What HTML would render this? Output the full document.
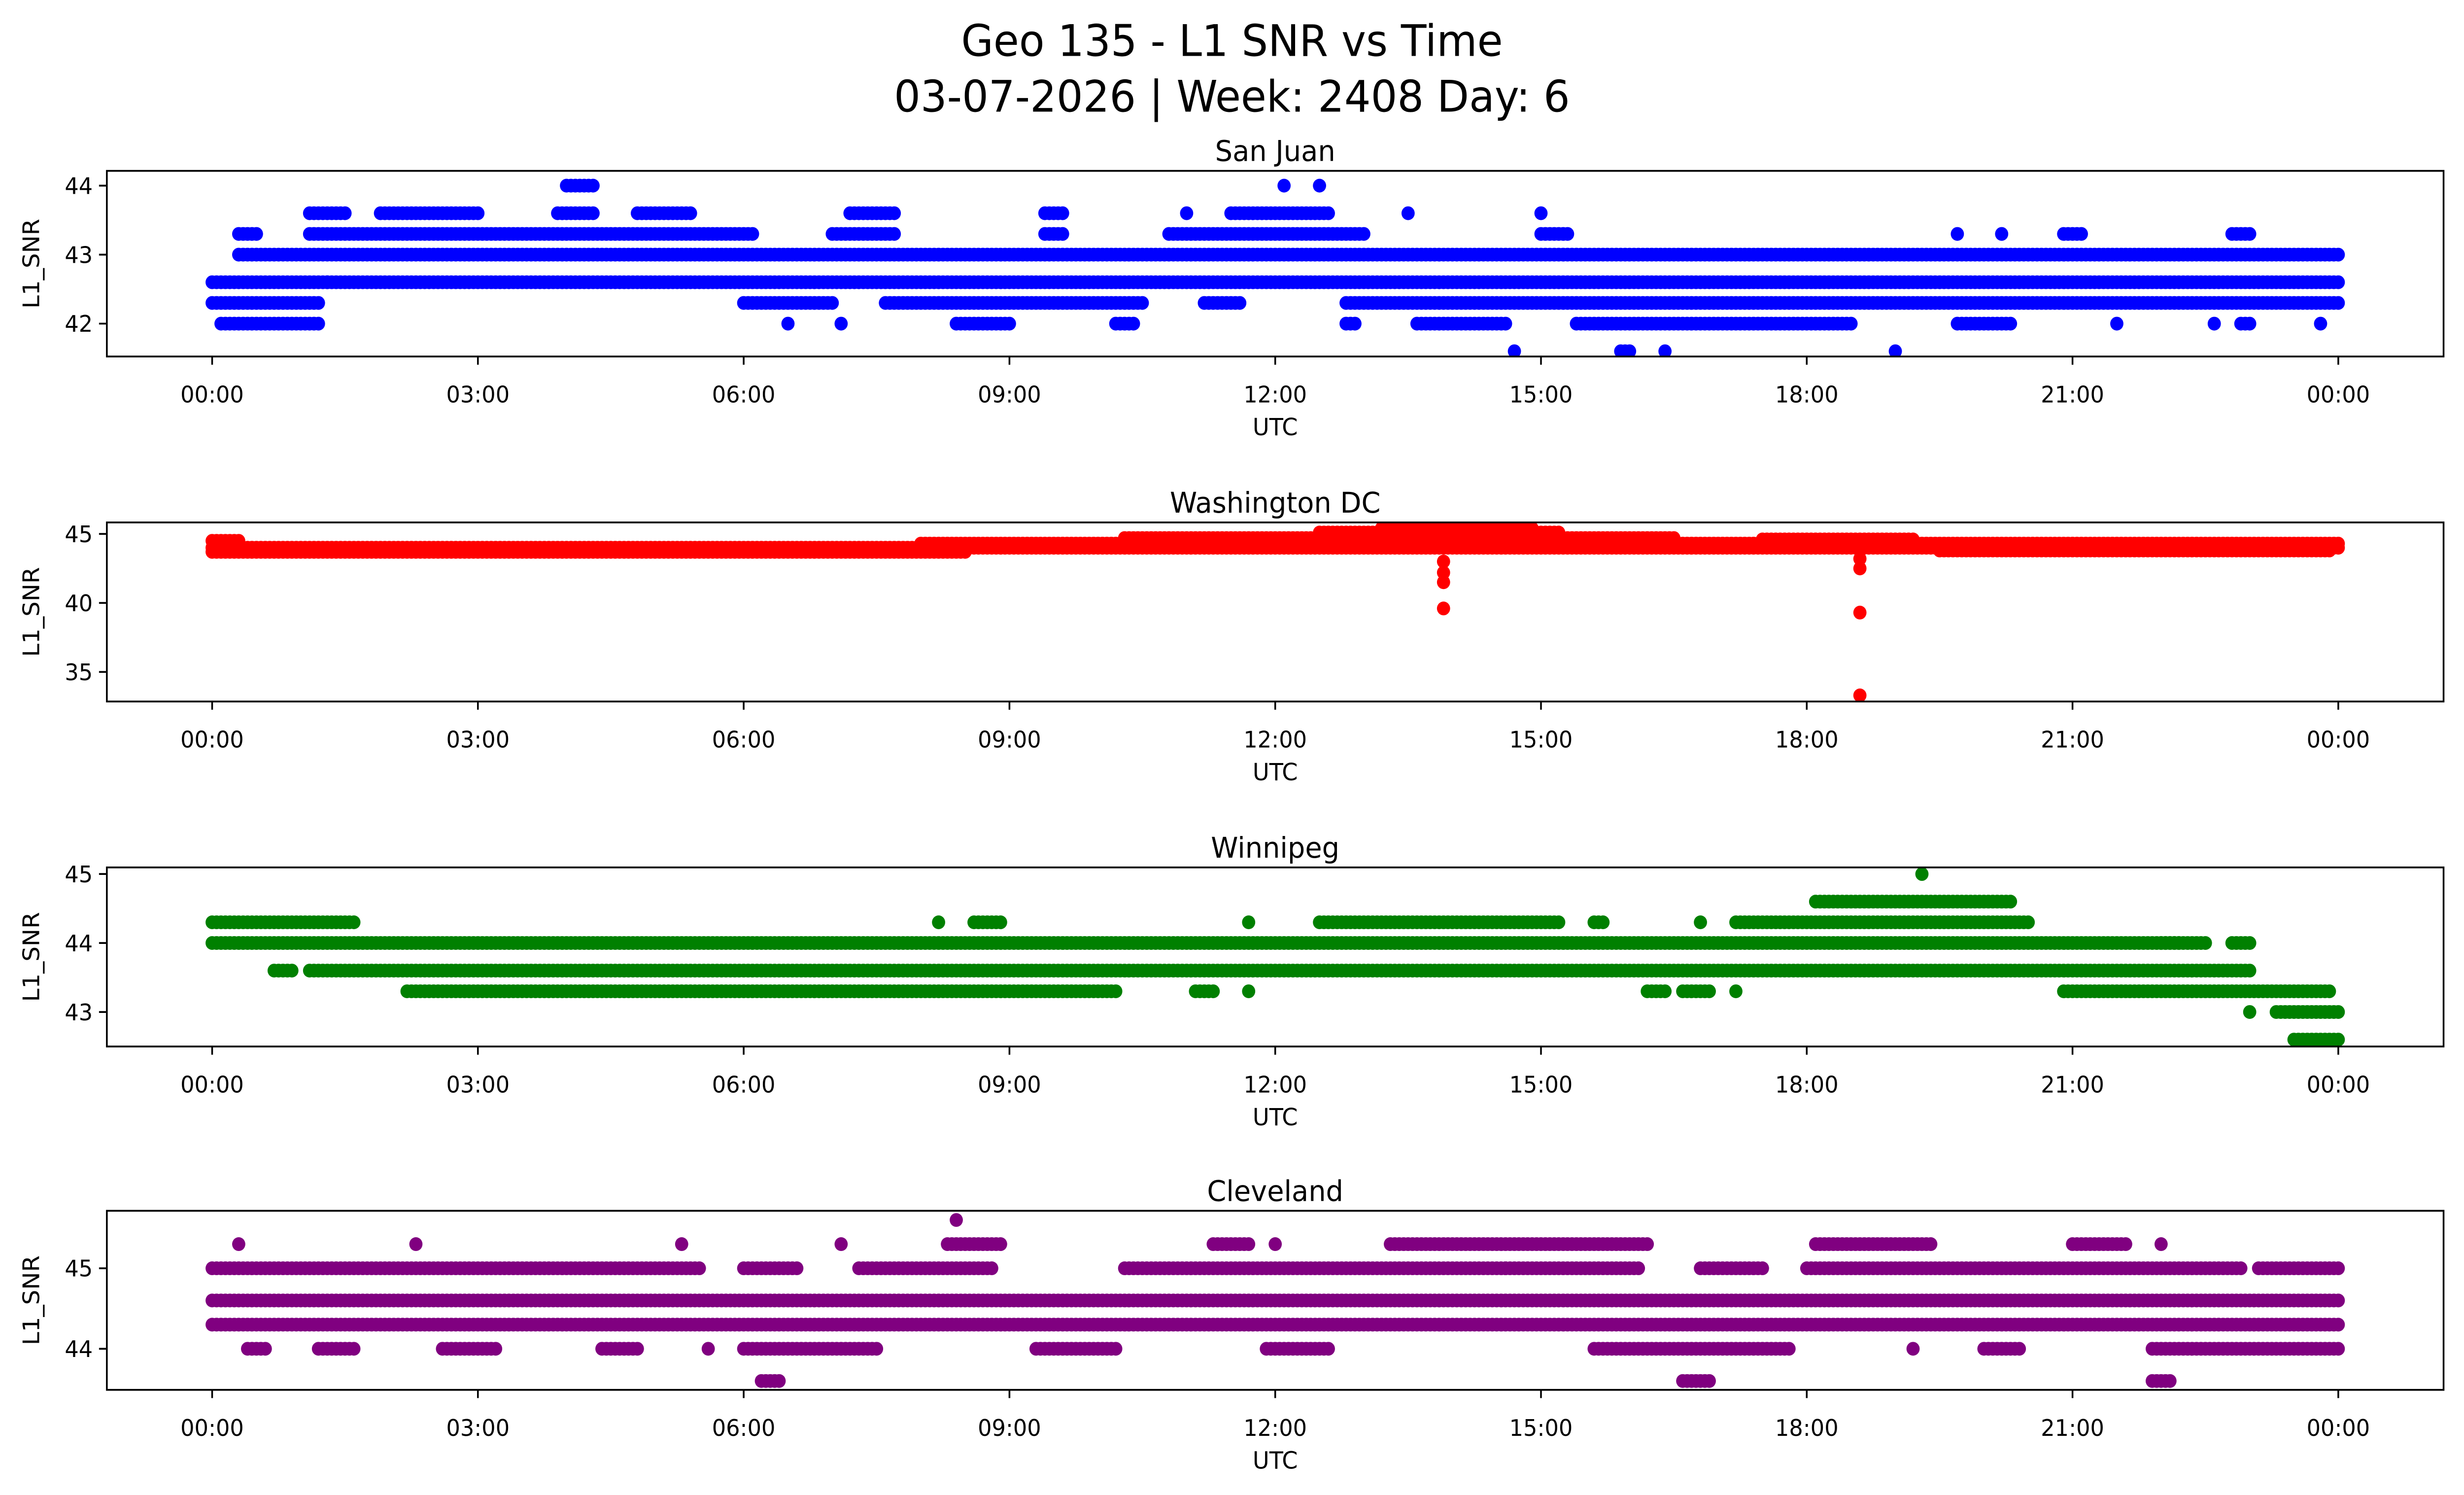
<!DOCTYPE html>
<html><head><meta charset="utf-8">
<style>
html,body{margin:0;padding:0;background:#fff;overflow:hidden;width:100%;height:100%;}
svg{display:block;width:100vw;height:100vh;font-family:"DejaVu Sans","Liberation Sans",sans-serif;}
</style></head>
<body>
<svg id="fig" viewBox="0 0 1568 910" preserveAspectRatio="none" xmlns="http://www.w3.org/2000/svg">
<rect width="1568" height="910" fill="#fff"/>
<text x="784" y="34" text-anchor="middle" font-size="26.5">Geo 135 - L1 SNR vs Time</text>
<text x="784" y="68" text-anchor="middle" font-size="26.5">03-07-2026 | Week: 2408 Day: 6</text>
</svg>
<script>
// x tick labels (hours)
const xTickHours = [0,3,6,9,12,15,18,21,24];
const xTickLabels = ["00:00","03:00","06:00","09:00","12:00","15:00","18:00","21:00","00:00"];

// Each run: [startHour, endHour, value]
const sanJuanRuns = [
 [0,1.3,42.6],[0,1.2,42.3],[0.1,1.2,42.0],[0.3,0.5,43.3],[0.3,24,43.0],
 [1.3,24,42.6],[1.1,6.1,43.3],[1.1,1.5,43.6],[1.9,3.0,43.6],[3.9,4.3,43.6],[4.8,5.4,43.6],
 [6.0,7.0,42.3],[6.5,6.5,42.0],[7.0,7.7,43.3],[7.2,7.7,43.6],[7.1,7.1,42.0],[7.6,10.5,42.3],
 [8.4,9.0,42.0],[9.4,9.6,43.3],[9.4,9.6,43.6],[10.2,10.4,42.0],[10.8,13.0,43.3],[11.0,11.0,43.6],
 [11.5,12.6,43.6],[11.2,11.6,42.3],[12.8,24,42.3],[12.8,12.9,42.0],[13.5,13.5,43.6],
 [13.6,14.6,42.0],[15.0,15.3,43.3],[15.0,15.0,43.6],[15.4,18.5,42.0],[19.7,19.7,43.3],
 [19.7,20.3,42.0],[20.2,20.2,43.3],[20.9,21.1,43.3],[21.5,21.5,42.0],[22.6,22.6,42.0],
 [22.8,23.0,43.3],[22.9,23.0,42.0],[23.8,23.8,42.0],
 [4.0,4.3,44.0],[12.1,12.1,44.0],[12.5,12.5,44.0],
 [14.7,14.7,41.6],[15.9,16.0,41.6],[16.4,16.4,41.6],[19.0,19.0,41.6]
];
const dcRuns = [
 [0,24,44.0],[0,8.5,43.7],[0,0.3,44.5],[8,24,44.3],[10.3,16.5,44.7],[12.5,15.2,45.1],
 [13.2,14.9,45.4],[17.5,19.2,44.6],[19.5,23.9,43.8],
 [13.9,13.9,43.0],[13.9,13.9,42.2],[13.9,13.9,41.5],[13.9,13.9,39.6],
 [18.6,18.6,43.2],[18.6,18.6,42.5],[18.6,18.6,39.3],[18.6,18.6,33.3]
];
const winnipegRuns = [
 [0,1.6,44.3],[0,22.2,44.0],[0.7,0.9,43.6],[1.1,23.0,43.6],[2.2,10.2,43.3],
 [8.2,8.2,44.3],[8.6,8.9,44.3],[11.7,11.7,44.3],[12.5,15.2,44.3],[15.6,15.7,44.3],
 [16.8,16.8,44.3],[17.2,20.5,44.3],[18.1,20.3,44.6],[19.3,19.3,45.0],
 [16.2,16.4,43.3],[16.6,16.9,43.3],[17.2,17.2,43.3],[11.1,11.3,43.3],[11.7,11.7,43.3],
 [20.9,23.9,43.3],[22.0,22.5,44.0],[22.8,23.0,44.0],[23.0,23.0,43.0],[23.3,24,43.0],[23.5,24,42.6]
];
const clevelandRuns = [
 [0,24,44.6],[0,24,44.3],[0,5.5,45.0],[6.0,6.6,45.0],[7.3,8.8,45.0],[10.3,14.6,45.0],
 [14.6,16.1,45.0],[16.8,17.5,45.0],[18.0,22.9,45.0],[23.1,24,45.0],
 [0.3,0.3,45.3],[2.3,2.3,45.3],[5.3,5.3,45.3],[7.1,7.1,45.3],[8.3,8.9,45.3],[11.3,11.7,45.3],
 [12.0,12.0,45.3],[13.3,16.2,45.3],[18.1,19.4,45.3],[21.0,21.6,45.3],[22.0,22.0,45.3],[8.4,8.4,45.6],
 [0.4,0.6,44.0],[1.2,1.6,44.0],[2.6,3.2,44.0],[4.4,4.8,44.0],[5.6,5.6,44.0],[6.0,7.5,44.0],
 [9.3,10.2,44.0],[11.9,12.6,44.0],[15.6,17.8,44.0],[19.2,19.2,44.0],[20.0,20.4,44.0],
 [21.9,24,44.0],[6.2,6.4,43.6],[16.6,16.9,43.6],[21.9,22.1,43.6]
];

const panels = [
 {name:"san-juan", title:"San Juan", runs:sanJuanRuns, color:"#0000ff", top:104, bottom:217, yTicks:[42,43,44], yAt:[[44,113],[42,197]]},
 {name:"washington-dc", title:"Washington DC", runs:dcRuns, color:"#ff0000", top:318, bottom:427, yTicks:[35,40,45], yAt:[[45,325],[35,409]]},
 {name:"winnipeg", title:"Winnipeg", runs:winnipegRuns, color:"#008000", top:528, bottom:637, yTicks:[43,44,45], yAt:[[45,532],[43,616]]},
 {name:"cleveland", title:"Cleveland", runs:clevelandRuns, color:"#800080", top:737, bottom:846, yTicks:[44,45], yAt:[[45,772],[44,821]]}
];

const NS="http://www.w3.org/2000/svg";
const svg=document.getElementById('fig');
const L=68,R=1555,X0=135,X1=1488;
function xScale(h){return X0+(X1-X0)*h/24;}
function mk(tag,attrs,parent){const e=document.createElementNS(NS,tag);for(const k in attrs)e.setAttribute(k,attrs[k]);(parent||svg).appendChild(e);return e;}

panels.forEach(p=>{
 const [[v0,p0],[v1,p1]]=p.yAt;
 const yScale=v=>p0+(v-v0)*(p1-p0)/(v1-v0);
 const g=mk('g',{});
 
 
 const t=mk('text',{x:(L+R)/2,y:p.top-6,'text-anchor':'middle','font-size':'17.5'},g);
 t.textContent=p.title;
 
 
 const clip=mk('clipPath',{id:'c'+p.name},g);
 mk('rect',{x:L,y:p.top,width:R-L,height:p.bottom-p.top},clip);
 const pts=mk('g',{'clip-path':'url(#c'+p.name+')',fill:p.color},g);
 
 
 p.runs.forEach(r=>{
  const n=Math.max(1,Math.round((r[1]-r[0])/0.05));
  for(let i=0;i<=n;i++){
   const h=r[0]+(r[1]-r[0])*(n?i/n:0);
   const c=mk('circle',{cx:xScale(h),cy:yScale(r[2]),r:4.2},pts);
   
   
   if(r[0]===r[1])break;
  }
 });
 const box=mk('rect',{x:L,y:p.top,width:R-L,height:p.bottom-p.top,fill:'none',stroke:'#000','stroke-width':1.1},g);
 
 
 xTickHours.forEach((h,i)=>{
  const x=xScale(h);
  mk('line',{x1:x,x2:x,y1:p.bottom,y2:p.bottom+5,stroke:'#000','stroke-width':1.1},g);
  const tl=mk('text',{x:x,y:p.bottom+28,'text-anchor':'middle','font-size':'14'},g);
  tl.textContent=xTickLabels[i];
  
  
 });
 const xl=mk('text',{x:(L+R)/2,y:p.bottom+48,'text-anchor':'middle','font-size':'14.5'},g);
 xl.textContent='UTC';
 
 
 p.yTicks.forEach(v=>{
  const y=yScale(v);
  mk('line',{x1:L-5,x2:L,y1:y,y2:y,stroke:'#000','stroke-width':1.1},g);
  const yl=mk('text',{x:L-9,y:y+5,'text-anchor':'end','font-size':'14'},g);
  yl.textContent=String(v);
  
  
 });
 const cy=(p.top+p.bottom)/2;
 const yt=mk('text',{x:25,y:cy,'text-anchor':'middle','font-size':'14.5',transform:'rotate(-90 25 '+cy+')'},g);
 yt.textContent='L1_SNR';
 
 
});
</script>
</body></html>
